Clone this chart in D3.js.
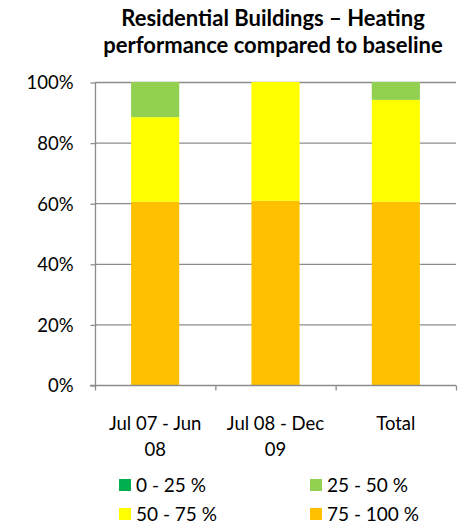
<!DOCTYPE html>
<html lang="en">
<head>
  <meta charset="UTF-8">
  <title>Residential Buildings – Heating performance</title>
  <script src="https://cdn.jsdelivr.net/npm/d3@7"></script>
  <style>
    body { margin: 0; background: #fff; }
    svg text { font-family: Lato, "Liberation Sans", sans-serif; fill: #000; }
  </style>
</head>
<body>
  <div id="chart"></div>

  <script>
    // data (percent of buildings)
    const categories = [["Jul 07 - Jun", "08"], ["Jul 08 - Dec", "09"], ["Total"]];
    const seriesNames = ["75 - 100 %", "50 - 75 %", "25 - 50 %", "0 - 25 %"];
    const seriesColors = ["#FFC000", "#FFFF00", "#92D050", "#00B050"];
    const band75to100 = [60.5, 60.8, 60.5];
    const band50to75 = [27.9, 39.2, 33.6];
    const band25to50 = [11.6, 0, 5.9];
    const band0to25 = [0, 0, 0];
    const yTicks = [0, 20, 40, 60, 80, 100];
    const legendOrder = ["0 - 25 %", "25 - 50 %", "50 - 75 %", "75 - 100 %"];

    const width = 462, height = 526;
    const margin = { top: 82, right: 6, bottom: 141, left: 95 };

    const rows = categories.map((c, i) => ({
      key: i,
      "75 - 100 %": band75to100[i],
      "50 - 75 %": band50to75[i],
      "25 - 50 %": band25to50[i],
      "0 - 25 %": band0to25[i]
    }));

    const svg = d3.select("#chart").append("svg")
      .attr("width", width)
      .attr("height", height);

    const x = d3.scaleBand()
      .domain(categories.map((c, i) => i))
      .range([margin.left, width - margin.right])
      .paddingInner(0.6)
      .paddingOuter(0.3);

    const y = d3.scaleLinear()
      .domain([0, 100])
      .range([height - margin.bottom, margin.top]);

    const color = d3.scaleOrdinal(seriesNames, seriesColors);

    // title
    svg.append("text")
      .attr("text-anchor", "middle")
      .style("font-size", "22px")
      .style("font-weight", "bold")
      .selectAll("tspan")
      .data(["Residential Buildings – Heating", "performance compared to baseline"])
      .join("tspan")
      .attr("x", 273)
      .attr("y", (d, i) => 26 + i * 27)
      .text(d => d);

    // gridlines
    svg.append("g")
      .selectAll("line")
      .data(yTicks.slice(1))
      .join("line")
      .attr("x1", margin.left)
      .attr("x2", width - margin.right)
      .attr("y1", d => y(d) + 0.5)
      .attr("y2", d => y(d) + 0.5)
      .attr("stroke", "#8c8c8c")
      .attr("stroke-width", 1.3);

    // y axis
    const yAxis = svg.append("g")
      .attr("transform", `translate(${margin.left + 0.5},0.5)`)
      .call(d3.axisLeft(y).tickValues(yTicks).tickFormat(d => d + "%").tickSize(5).tickPadding(17));
    yAxis.select(".domain").attr("stroke", "#8c8c8c").attr("stroke-width", 1.3).attr("d", `M0,${y(100)}V${y(0) + 5}`);
    yAxis.selectAll(".tick line").attr("stroke", "#8c8c8c").attr("stroke-width", 1.3);
    yAxis.selectAll("text").style("font-size", "18.5px").attr("dy", "0.35em");

    // stacked bars
    const stack = d3.stack().keys(seriesNames);
    svg.append("g")
      .selectAll("g")
      .data(stack(rows))
      .join("g")
      .attr("fill", d => color(d.key))
      .selectAll("rect")
      .data(d => d)
      .join("rect")
      .attr("x", d => x(d.data.key))
      .attr("width", x.bandwidth())
      .attr("y", d => y(d[1]))
      .attr("height", d => y(d[0]) - y(d[1]));

    // x axis
    const xAxisG = svg.append("g").attr("transform", `translate(0,${y(0) + 0.5})`);
    xAxisG.append("line")
      .attr("x1", margin.left - 5).attr("x2", width - margin.right)
      .attr("stroke", "#8c8c8c").attr("stroke-width", 1.3);
    const bandEdges = d3.range(categories.length + 1).map(i => margin.left + i * (width - margin.right - margin.left) / categories.length);
    xAxisG.selectAll("line.tk")
      .data(bandEdges.slice(1))
      .join("line")
      .attr("class", "tk")
      .attr("x1", d => d + 0.5).attr("x2", d => d + 0.5)
      .attr("y1", 0).attr("y2", 5)
      .attr("stroke", "#8c8c8c").attr("stroke-width", 1.3);

    xAxisG.selectAll("text")
      .data(categories)
      .join("text")
      .attr("text-anchor", "middle")
      .style("font-size", "18.5px")
      .each(function(lines, i) {
        d3.select(this).selectAll("tspan")
          .data(lines)
          .join("tspan")
          .attr("x", x(i) + x.bandwidth() / 2)
          .attr("y", (d, j) => 44 + j * 26)
          .text(d => d);
      });

    // legend
    const legend = svg.append("g");
    const legendItems = legend.selectAll("g")
      .data(legendOrder)
      .join("g")
      .attr("transform", (d, i) => `translate(${i % 2 === 0 ? 119 : 310},${i < 2 ? 479 : 508})`);
    legendItems.append("rect")
      .attr("width", 12).attr("height", 12)
      .attr("fill", d => color(d));
    legendItems.append("text")
      .attr("x", 17).attr("y", 6).attr("dy", "0.35em")
      .style("font-size", "19px")
      .text(d => d);
  </script>
</body>
</html>
